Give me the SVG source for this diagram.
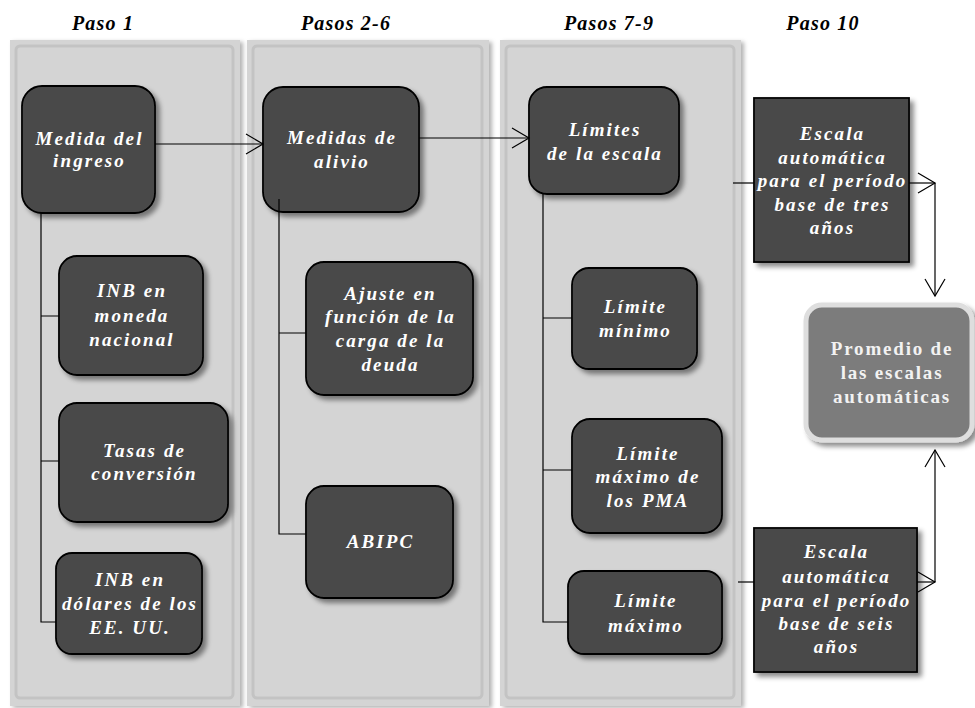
<svg xmlns="http://www.w3.org/2000/svg" width="975" height="708" viewBox="0 0 975 708">
<style>
.panel{fill:#d4d4d4;filter:url(#psh)}
.pin{fill:none;stroke:#c3c3c3;stroke-width:3}
.node{fill:#4a4a4a;stroke:#000;stroke-width:1.8;filter:url(#sh)}
.avg{fill:#7b7b7b;stroke:#dedede;stroke-width:5;filter:url(#sh)}
.t{font-size:19px;letter-spacing:2.1px;fill:#fff;text-anchor:middle}
.ta{font-size:19px;letter-spacing:1.8px;fill:#f2f2f2;text-anchor:middle}
.hd{font-size:20px;letter-spacing:1.2px;fill:#000;text-anchor:middle}
.c{fill:none;stroke:#000;stroke-width:1.2}
.a{marker-end:url(#arr)}
</style>
<defs>
<filter id="sh" x="-20%" y="-20%" width="150%" height="150%">
<feDropShadow dx="4" dy="4" stdDeviation="2.5" flood-color="#000" flood-opacity="0.45"/>
</filter>
<filter id="psh" x="-10%" y="-5%" width="120%" height="110%">
<feDropShadow dx="3" dy="2" stdDeviation="2" flood-color="#000" flood-opacity="0.3"/>
</filter>
<marker id="arr" markerUnits="userSpaceOnUse" markerWidth="20" markerHeight="22" refX="17" refY="10" orient="auto" viewBox="-1 -1 19 22">
<path d="M0,0 L17,10 L0,20" fill="none" stroke="#000" stroke-width="1.2"/>
</marker>
</defs>

<g id="panels">
<rect class="panel" x="10" y="40" width="230" height="666"/>
<rect class="pin" x="16" y="46" width="217" height="652" rx="4"/>
<rect class="panel" x="247" y="40" width="242" height="666"/>
<rect class="pin" x="253" y="46" width="229" height="652" rx="4"/>
<rect class="panel" x="500" y="40" width="241" height="666"/>
<rect class="pin" x="506" y="46" width="228" height="652" rx="4"/>
</g>

<g id="headers" font-family="Liberation Serif, serif" font-weight="bold" font-style="italic">
<text class="hd" x="103" y="30">Paso 1</text>
<text class="hd" x="346" y="30">Pasos 2-6</text>
<text class="hd" x="609" y="30">Pasos 7-9</text>
<text class="hd" x="823" y="30">Paso 10</text>
</g>

<g id="nodes" font-family="Liberation Serif, serif" font-weight="bold" font-style="italic">
<g id="n-medida-ingreso">
<rect class="node" x="22" y="86" width="133" height="127" rx="20"/>
<text class="t" x="89.5" y="145">Medida del</text>
<text class="t" x="89.5" y="167">ingreso</text>
</g>
<g id="n-medidas-alivio">
<rect class="node" x="263" y="87" width="156" height="125" rx="20"/>
<text class="t" x="342" y="144">Medidas de</text>
<text class="t" x="342" y="168">alivio</text>
</g>
<g id="n-limites-escala">
<rect class="node" x="529" y="87" width="150" height="107" rx="18"/>
<text class="t" x="605" y="136">Límites</text>
<text class="t" x="605" y="160">de la escala</text>
</g>
<g id="n-escala-tres">
<rect class="node" x="754" y="98" width="155" height="164"/>
<text class="t" x="832.5" y="140">Escala</text>
<text class="t" x="832.5" y="163.5">automática</text>
<text class="t" x="832.5" y="187">para el período</text>
<text class="t" x="832.5" y="210.5">base de tres</text>
<text class="t" x="832.5" y="234">años</text>
</g>
<g id="n-promedio" font-style="normal">
<rect class="avg" x="806" y="305" width="166" height="135" rx="16"/>
<text class="ta" x="892" y="355">Promedio de</text>
<text class="ta" x="892" y="379">las escalas</text>
<text class="ta" x="892" y="403">automáticas</text>
</g>
<g id="n-inb-moneda">
<rect class="node" x="59" y="256" width="144" height="119" rx="18"/>
<text class="t" x="132" y="297">INB en</text>
<text class="t" x="132" y="322">moneda</text>
<text class="t" x="132" y="346">nacional</text>
</g>
<g id="n-tasas">
<rect class="node" x="59" y="403" width="169" height="119" rx="18"/>
<text class="t" x="144.5" y="457">Tasas de</text>
<text class="t" x="144.5" y="480">conversión</text>
</g>
<g id="n-inb-dolares">
<rect class="node" x="56" y="553" width="146" height="101" rx="16"/>
<text class="t" x="130" y="586">INB en</text>
<text class="t" x="130" y="610">dólares de los</text>
<text class="t" x="130" y="634">EE. UU.</text>
</g>
<g id="n-ajuste">
<rect class="node" x="306" y="262" width="167" height="133" rx="18"/>
<text class="t" x="390.5" y="300">Ajuste en</text>
<text class="t" x="390.5" y="323">función de la</text>
<text class="t" x="390.5" y="347">carga de la</text>
<text class="t" x="390.5" y="371">deuda</text>
</g>
<g id="n-abipc">
<rect class="node" x="306" y="486" width="147" height="112" rx="18"/>
<text class="t" x="380.5" y="548">ABIPC</text>
</g>
<g id="n-limite-minimo">
<rect class="node" x="572" y="268" width="125" height="101" rx="17"/>
<text class="t" x="635.5" y="313">Límite</text>
<text class="t" x="635.5" y="337">mínimo</text>
</g>
<g id="n-limite-pma">
<rect class="node" x="572" y="419" width="150" height="114" rx="18"/>
<text class="t" x="648" y="460">Límite</text>
<text class="t" x="648" y="483">máximo de</text>
<text class="t" x="648" y="507">los PMA</text>
</g>
<g id="n-limite-maximo">
<rect class="node" x="568" y="571" width="154" height="83" rx="16"/>
<text class="t" x="646" y="607">Límite</text>
<text class="t" x="646" y="632">máximo</text>
</g>
<g id="n-escala-seis">
<rect class="node" x="754" y="528" width="163" height="144"/>
<text class="t" x="836.5" y="558">Escala</text>
<text class="t" x="836.5" y="583">automática</text>
<text class="t" x="836.5" y="607">para el período</text>
<text class="t" x="836.5" y="630">base de seis</text>
<text class="t" x="836.5" y="653">años</text>
</g>
</g>

<g id="connectors">
<path class="c a" d="M155,144 H263"/>
<path class="c a" d="M419,138 H529"/>
<path class="c" d="M41,213 V622 H56 M41,316 H59 M41,461 H59"/>
<path class="c" d="M279,199 V534 H306 M279,333 H306"/>
<path class="c" d="M543,194 V622 H568 M543,318 H572 M543,470 H572"/>
<path class="c" d="M733,183 H754"/>
<path class="c a" d="M909,183 H935"/>
<path class="c a" d="M935,183 V296"/>
<path class="c" d="M738,582 H754"/>
<path class="c a" d="M917,582 H935"/>
<path class="c a" d="M935,582 V450"/>
</g>
</svg>
